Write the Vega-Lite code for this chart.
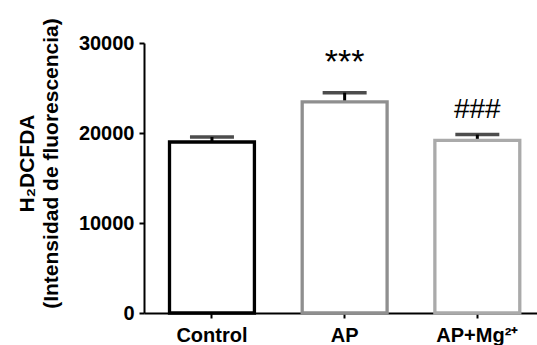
{
  "$schema": "https://vega.github.io/schema/vega-lite/v6.json",
  "autosize": "none",
  "width": 393,
  "height": 270,
  "padding": {"left": 144, "top": 43, "right": 0, "bottom": 32},
  "background": "white",
  "config": {
    "view": {"stroke": null},
    "font": "Liberation Sans",
    "axis": {
      "domainColor": "black",
      "domainWidth": 2,
      "tickColor": "black",
      "tickWidth": 2,
      "tickSize": 5,
      "labelFont": "Liberation Sans",
      "labelFontWeight": "bold",
      "labelFontSize": 20,
      "labelColor": "black",
      "grid": false,
      "titleFont": "Liberation Sans",
      "titleFontWeight": "bold",
      "titleColor": "black"
    }
  },
  "datasets": {
    "bars": [
      {"group": "Control", "mean": 19000, "upper": 19550},
      {"group": "AP", "mean": 23450, "upper": 24480},
      {"group": "AP+Mg²⁺", "mean": 19180, "upper": 19820}
    ],
    "marks": [
      {"group": "AP", "label": "***", "pos": 26650},
      {"group": "AP+Mg²⁺", "label": "###", "pos": 21700}
    ]
  },
  "layer": [
    {
      "data": {"name": "bars"},
      "mark": {"type": "rule", "strokeWidth": 3, "color": "black"},
      "encoding": {
        "x": {"field": "group", "type": "nominal", "sort": null},
        "y": {"field": "mean", "type": "quantitative"},
        "y2": {"field": "upper"}
      }
    },
    {
      "data": {"name": "bars"},
      "mark": {"type": "tick", "thickness": 3.5, "size": 44, "color": "black"},
      "encoding": {
        "x": {"field": "group", "type": "nominal", "sort": null},
        "y": {"field": "upper", "type": "quantitative"}
      }
    },
    {
      "data": {"name": "bars"},
      "mark": {"type": "bar", "fill": "white", "strokeWidth": 3.3, "strokeJoin": "miter"},
      "encoding": {
        "x": {
          "field": "group", "type": "nominal", "sort": null,
          "scale": {"paddingInner": 0.36, "paddingOuter": 0.161, "align": 0.597},
          "axis": {"title": null, "labelAngle": 0, "labelAlign": "center", "labelBaseline": "top", "labelPadding": 7, "tickSize": 5}
        },
        "y": {
          "field": "mean", "type": "quantitative",
          "scale": {"domain": [0, 30000], "nice": false},
          "axis": {
            "values": [0, 10000, 20000, 30000],
            "format": "d",
            "labelPadding": 5,
            "title": ["H₂DCFDA", "(Intensidad de fluorescencia)"],
            "titleFontSize": 21,
            "titleLineHeight": 24,
            "titleAngle": 270,
            "titleAlign": "center",
            "titleBaseline": "middle",
            "titleX": -117,
            "titleY": 120
          }
        },
        "stroke": {
          "field": "group", "type": "nominal", "sort": null,
          "scale": {"domain": ["Control", "AP", "AP+Mg²⁺"], "range": ["#000000", "#8f8f8f", "#aaaaaa"]},
          "legend": null
        }
      }
    },
    {
      "data": {"name": "marks"},
      "mark": {"type": "text", "baseline": "alphabetic", "align": "center", "color": "black"},
      "encoding": {
        "x": {"field": "group", "type": "nominal", "sort": null},
        "y": {"field": "pos", "type": "quantitative"},
        "text": {"field": "label"},
        "size": {"condition": {"test": "datum.label === '***'", "value": 34}, "value": 28},
        "fontWeight": {"condition": {"test": "datum.label === '***'", "value": "bold"}, "value": "normal"}
      }
    }
  ]
}
